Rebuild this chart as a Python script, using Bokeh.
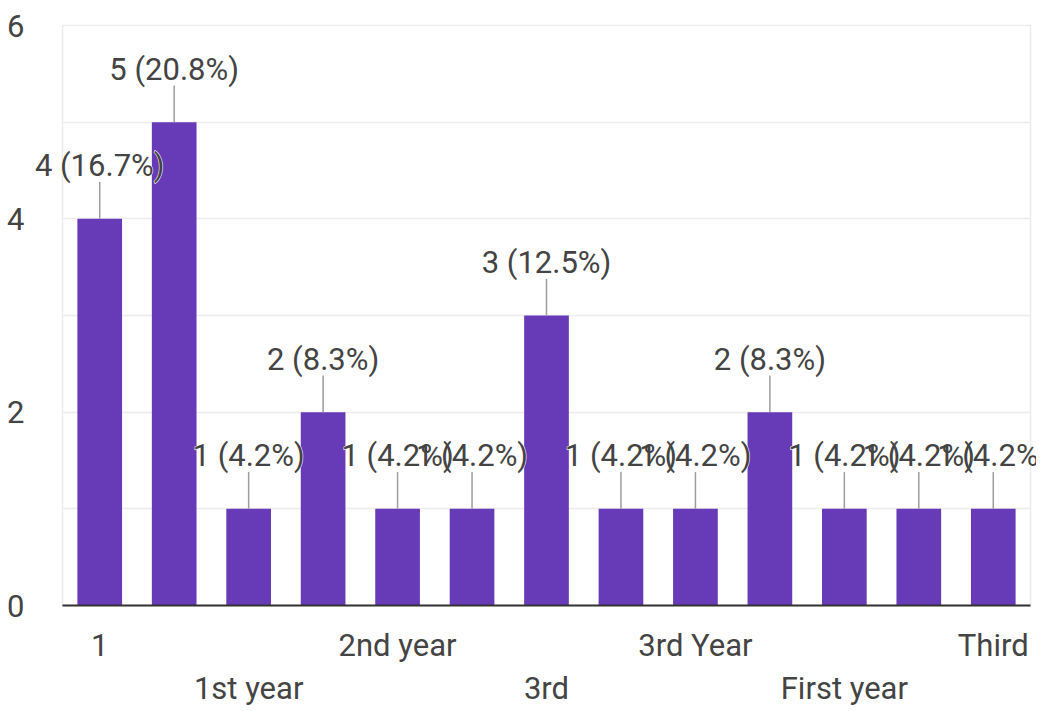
from bokeh.plotting import figure
from bokeh.models import (ColumnDataSource, LinearAxis, FixedTicker, Range1d)
from bokeh.core.properties import value
from bokeh.embed import file_html
from bokeh.resources import INLINE

# ---- data ----
categories = ["1", "1st Year", "1st year", "2nd Year", "2nd year", "3", "3rd",
              "3rd Sem", "3rd Year", "3rd year", "First year", "Second year", "Third"]
counts = [4, 5, 1, 2, 1, 1, 3, 1, 1, 2, 1, 1, 1]
y_ticks = [0, 2, 4, 6]
upper_row = [0, 4, 8, 12]   # category indices labelled on the first row
lower_row = [2, 6, 10]      # category indices labelled on the second row

total = sum(counts)
xs = list(range(len(categories)))
labels = [f"{c} ({c / total * 100:.1f}%)" for c in counts]
src = ColumnDataSource(dict(x=xs, top=counts, cat=categories, label=labels,
                            lead=[c + 0.38 for c in counts],
                            ly=[c + 0.55 for c in counts]))

FONT = "Roboto"
FS = "31px"
TXT = "#444444"
BAR = "#673ab7"

p = figure(width=1036, height=710, output_backend="svg", toolbar_location=None,
           x_range=Range1d(-0.5, len(categories) - 0.5), y_range=Range1d(0, 6),
           min_border_left=62, min_border_right=6, min_border_top=25, min_border_bottom=105,
           x_axis_location=None, y_axis_location=None)
p.background_fill_color = "white"
p.border_fill_color = "white"
p.outline_line_color = "#ececec"
p.outline_line_width = 1.5

# y axis
yax = LinearAxis(ticker=FixedTicker(ticks=y_ticks))
yax.axis_line_color = None
yax.major_tick_line_color = None
yax.minor_tick_line_color = None
yax.major_label_text_font = FONT
yax.major_label_text_font_size = FS
yax.major_label_text_color = TXT
yax.major_label_standoff = 32
p.add_layout(yax, "left")

# grid every integer
p.xgrid.visible = False
p.ygrid.ticker = FixedTicker(ticks=[1, 2, 3, 4, 5, 6])
p.ygrid.grid_line_color = "#ececec"
p.ygrid.grid_line_width = 1.5

# x axis - staggered two-row labels
overrides = {i: categories[i] for i in upper_row}
overrides.update({i: "\n" + categories[i] for i in lower_row})
xa = LinearAxis(ticker=FixedTicker(ticks=sorted(upper_row + lower_row)),
                major_label_overrides=overrides)
xa.axis_line_color = "#333333"
xa.axis_line_width = 2
xa.major_tick_line_color = None
xa.minor_tick_line_color = None
xa.major_label_text_font = FONT
xa.major_label_text_font_size = FS
xa.major_label_text_color = TXT
xa.major_label_text_line_height = 1.18
xa.major_label_standoff = 15
p.add_layout(xa, "below")

# bars
p.vbar(x="x", top="top", width=0.6, bottom=0, source=src,
       fill_color=BAR, line_color=None)

# leader lines
p.segment(x0="x", y0="top", x1="x", y1="lead", source=src,
          line_color="#9e9e9e", line_width=1.5)

# value labels: white halo layer, then the text itself
p.text(x="x", y="ly", text="label", source=src, level="overlay",
       text_align="center", text_baseline="middle",
       text_font=value(FONT), text_font_size=FS, text_color="white",
       text_outline_color="white")
p.text(x="x", y="ly", text="label", source=src, level="overlay",
       text_align="center", text_baseline="middle",
       text_font=value(FONT), text_font_size=FS, text_color=TXT)

open("out.html", "w").write(file_html(p, INLINE))
